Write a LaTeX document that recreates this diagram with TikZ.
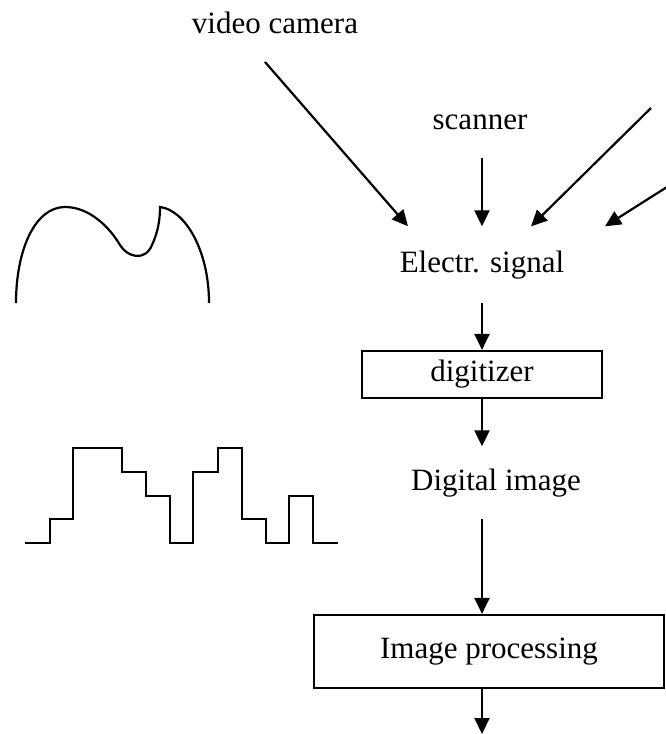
\documentclass[tikz,border=0pt]{standalone}
\usepackage{fontspec}
\setmainfont{Liberation Serif}
\usetikzlibrary{arrows.meta,calc}
\begin{document}
\begin{tikzpicture}[x=1pt,y=-1pt,
  font=\fontsize{31}{36}\selectfont,
  ln/.style={line width=2.2pt},
  arr/.style={line width=2.2pt,-{Triangle[length=16pt,width=15pt]}},
  box/.style={draw,line width=2.2pt,inner sep=0pt}]
\useasboundingbox (0,0) rectangle (665,734);

% text nodes
\node[anchor=base] (vc) at (275,33) {video camera};
\node[anchor=base] (sc) at (480,129) {scanner};
\node[anchor=base,inner ysep=24pt] (es) at (482,272) {Electr. signal};
\node[box,minimum width=240pt,minimum height=47pt] (dig) at (482,374.5) {digitizer};
\node[anchor=base,inner ysep=22pt] (di) at (496,490) {Digital image};
\node[box,minimum width=350pt,minimum height=73pt] (ip) at (489,651.5) {Image processing};

% free ends
\coordinate (vcs) at (265,62);
\coordinate (scs) at (482,158);
\coordinate (a3s) at (651,108);
\coordinate (a4s) at (667,187);
\coordinate (out) at (482,734);

% connectors
\draw[arr] (vcs) -- ([xshift=-74pt]es.north);
\draw[arr] (scs) -- (es.north);
\draw[arr] (a3s) -- ([xshift=49pt]es.north);
\draw[arr] (a4s) -- ([xshift=123pt]es.north);
\draw[arr] (es.south) -- (dig.north);
\draw[arr] (dig.south) -- (dig.south |- di.north);
\draw[arr] (dig.south |- di.south) -- (dig.south |- ip.north);
\draw[arr] (dig.south |- ip.south) -- (out);

% analog signal curve
\draw[ln] (16,303) .. controls (16,250) and (35,207) .. (65,207)
  .. controls (90,207) and (110,228) .. (120,245)
  .. controls (127,257) and (145,262) .. (152,245)
  .. controls (158,232) and (160,220) .. (160,207)
  .. controls (185,210) and (209,250) .. (209,303);

% digital staircase
\draw[ln] (25,543) -- (50,543) -- (50,519) -- (73,519) -- (73,448)
  -- (122,448) -- (122,472) -- (146,472) -- (146,496) -- (170,496)
  -- (170,543) -- (193,543) -- (193,472) -- (218,472) -- (218,448)
  -- (242,448) -- (242,519) -- (266,519) -- (266,543) -- (289,543)
  -- (289,496) -- (313,496) -- (313,543) -- (338,543);
\end{tikzpicture}
\end{document}
